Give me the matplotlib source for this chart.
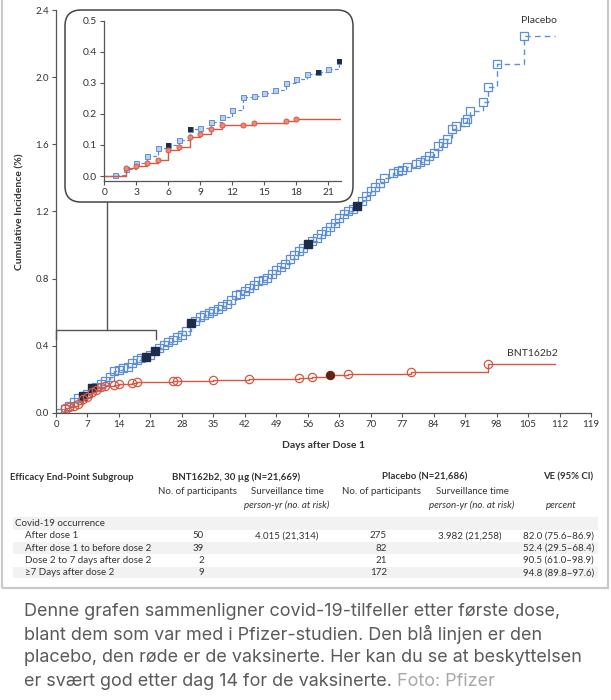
import matplotlib.pyplot as plt
from matplotlib.patches import FancyBboxPatch, Rectangle

plt.rcParams['font.family'] = ['Lato', 'DejaVu Sans']

W, H = 611, 700

# cumulative incidence (%)
placebo_days = [1, 2, 3, 4, 5, 6, 7, 8, 9, 10, 11, 12, 13, 14, 15, 16, 17, 18, 19, 20,
                21, 22, 23, 24, 25, 26, 27, 28, 29, 30, 31, 32, 33, 34, 35, 36, 37, 38, 39, 40,
                41, 42, 43, 44, 45, 46, 47, 48, 49, 50, 51, 52, 53, 54, 55, 56, 57, 58, 59, 60,
                61, 62, 63, 64, 65, 66, 67, 68, 69, 70, 71, 72, 73, 75, 76, 77, 78, 80, 81, 82,
                83, 84, 85, 86, 87, 88, 89, 91, 91.4, 92, 95, 96, 98, 104]
placebo_cum = [0.002, 0.023, 0.041, 0.063, 0.090, 0.100, 0.116, 0.150, 0.153, 0.175,
               0.191, 0.212, 0.253, 0.258, 0.267, 0.276, 0.300, 0.313, 0.328, 0.334,
               0.344, 0.370, 0.385, 0.405, 0.420, 0.437, 0.452, 0.465, 0.490, 0.534,
               0.548, 0.570, 0.585, 0.598, 0.605, 0.618, 0.635, 0.650, 0.675, 0.700,
               0.710, 0.725, 0.745, 0.765, 0.785, 0.795, 0.805, 0.830, 0.850, 0.870,
               0.890, 0.920, 0.940, 0.965, 0.985, 1.004, 1.025, 1.045, 1.065, 1.085,
               1.105, 1.130, 1.160, 1.185, 1.200, 1.215, 1.234, 1.265, 1.295, 1.320,
               1.345, 1.370, 1.397, 1.430, 1.440, 1.450, 1.466, 1.480, 1.496, 1.506,
               1.530, 1.550, 1.590, 1.605, 1.630, 1.690, 1.710, 1.734, 1.750, 1.800,
               1.850, 1.940, 2.077, 2.244]
placebo_dark = [6, 8, 20, 22, 30, 56, 67]

bnt_days = [2, 3, 4, 5, 6, 7, 8, 9, 10, 11, 13, 14, 17, 18, 26, 27, 35, 43, 54, 57, 61, 65, 79, 96]
bnt_cum = [0.027, 0.033, 0.043, 0.053, 0.084, 0.095, 0.125, 0.135, 0.152, 0.163,
           0.164, 0.170, 0.176, 0.183, 0.188, 0.192, 0.196, 0.200, 0.207, 0.215,
           0.224, 0.233, 0.242, 0.292]
bnt_dark = [61]
end_day = 111

x_ticks = list(range(0, 120, 7))
y_ticks = [0.0, 0.4, 0.8, 1.2, 1.6, 2.0, 2.4]
inset_x_ticks = list(range(0, 22, 3))
inset_y_ticks = [0.0, 0.1, 0.2, 0.3, 0.4, 0.5]

table_header = ["Efficacy End-Point Subgroup", "BNT162b2, 30 µg (N=21,669)",
                "Placebo (N=21,686)", "VE (95% CI)"]
row_labels = ["After dose 1", "After dose 1 to before dose 2",
              "Dose 2 to 7 days after dose 2", "≥7 Days after dose 2"]
bnt_n = ["50", "39", "2", "9"]
bnt_time = ["4.015 (21,314)", "", "", ""]
placebo_n = ["275", "82", "21", "172"]
placebo_time = ["3.982 (21,258)", "", "", ""]
ve = ["82.0 (75.6–86.9)", "52.4 (29.5–68.4)", "90.5 (61.0–98.9)", "94.8 (89.8–97.6)"]

caption = ["Denne grafen sammenligner covid-19-tilfeller etter første dose,",
           "blant dem som var med i Pfizer-studien. Den blå linjen er den",
           "placebo, den røde er de vaksinerte. Her kan du se at beskyttelsen",
           "er svært god etter dag 14 for de vaksinerte."]
credit = "Foto: Pfizer"

BLUE = '#5e8fd6'
RED = '#d9573f'
NAVY = '#1f2c48'
DARKRED = '#5e2418'
AX = '#555555'
TXT = '#333333'


def fx(px):
    return px / W


def fy(py):
    return 1 - py / H


def style_axes(a, fs):
    for s in ['top', 'right']:
        a.spines[s].set_visible(False)
    for s in ['left', 'bottom']:
        a.spines[s].set_color(AX)
        a.spines[s].set_linewidth(0.9)
    a.tick_params(direction='out', length=3, width=0.8, color=AX,
                  labelsize=fs, labelcolor=TXT, pad=2)


def step_xy(days, cum):
    return [0] + list(days) + [end_day], [0] + list(cum) + [cum[-1]]


fig = plt.figure(figsize=(W / 100, H / 100), dpi=100)

# ---- main chart ----
ax = fig.add_axes([fx(56), fy(413), fx(591) - fx(56), (413 - 10) / H])
ax.set_facecolor('none')
style_axes(ax, 7)

px_, py_ = step_xy(placebo_days, placebo_cum)
ax.step(px_, py_, where='post', color=BLUE, lw=1.0, ls=(0, (4, 3)))
ax.plot(placebo_days, placebo_cum, 's', mfc='none', mec=BLUE, ms=6.3, mew=0.9)
dk = [placebo_cum[placebo_days.index(d)] for d in placebo_dark]
ax.plot(placebo_dark, dk, 's', mfc=NAVY, mec=NAVY, ms=5.8, mew=0.9)

bx_, by_ = step_xy(bnt_days, bnt_cum)
ax.step(bx_, by_, where='post', color=RED, lw=1.0)
ax.plot(bnt_days, bnt_cum, 'o', mfc='none', mec=RED, ms=6, mew=0.9)
dk = [bnt_cum[bnt_days.index(d)] for d in bnt_dark]
ax.plot(bnt_dark, dk, 'o', mfc=DARKRED, mec=DARKRED, ms=5.5, mew=0.9)

ax.set_xlim(0, 119)
ax.set_ylim(0, 2.4)
ax.set_xticks(x_ticks)
ax.set_yticks(y_ticks)
ax.set_yticklabels([f"{v:.1f}" for v in y_ticks])
ax.set_xlabel("Days after Dose 1", fontsize=7.5, fontweight='bold', color=TXT, labelpad=9)
ax.set_ylabel("Cumulative Incidence (%)", fontsize=7.5, fontweight='bold', color=TXT, labelpad=8)

ax.text(107.5, 2.31, "Placebo", fontsize=7.5, color=TXT, ha='center', va='bottom')
ax.text(106, 0.33, "BNT162b2", fontsize=7.5, color=TXT, ha='center', va='bottom')

# bracket marking the zoomed range and connector to the inset box
ax.plot([0, 0, 22.3, 22.3], [0.44, 0.494, 0.494, 0.44], color=AX, lw=1.0, clip_on=False)
ax.plot([11.3, 11.3], [0.494, 1.256], color=AX, lw=1.0, clip_on=False)

# ---- inset ----
box = FancyBboxPatch((0.65, 4.98), 2.88, 1.92, boxstyle="round,pad=0,rounding_size=0.16",
                     transform=fig.dpi_scale_trans, fc='white', ec='#444444', lw=1.1, zorder=0.5)
fig.patches.append(box)

axin = fig.add_axes([fx(104.3), fy(181), (341 - 104.3) / W, (181 - 20.7) / H])
axin.set_zorder(2)
axin.set_facecolor('none')
style_axes(axin, 7.4)
axin.step(px_, py_, where='post', color=BLUE, lw=0.9, ls=(0, (3, 2)))
axin.plot(placebo_days, placebo_cum, 's', mfc='#bcd0ee', mec=BLUE, ms=3.6, mew=0.7)
dk = [placebo_cum[placebo_days.index(d)] for d in placebo_dark]
axin.plot(placebo_dark, dk, 's', mfc=NAVY, mec=NAVY, ms=3.4, mew=0.7)
axin.step(bx_, by_, where='post', color=RED, lw=1.0)
axin.plot(bnt_days, bnt_cum, 'o', mfc='#ec8b73', mec=RED, ms=3.6, mew=0.7)
axin.set_xlim(0, 22.2)
axin.set_ylim(-0.016, 0.5)
axin.set_xticks(inset_x_ticks)
axin.set_yticks(inset_y_ticks)
axin.set_yticklabels([f"{v:.1f}" for v in inset_y_ticks])

# ---- table ----
frame = Rectangle((fx(2), fy(588)), fx(608) - fx(2), 588 / H + 0.01, transform=fig.transFigure,
                  fc='none', ec='#c9c9c9', lw=1.6, zorder=0.4)
fig.patches.append(frame)
for top, bot in [(517, 530), (542, 554), (567, 578)]:
    fig.patches.append(Rectangle((fx(13), fy(bot)), fx(598) - fx(13), (bot - top) / H,
                                 transform=fig.transFigure, fc='#f2f2f2', ec='none', zorder=0.3))

TFS = 7
HFS = 6.9
fig.text(fx(10), fy(477), table_header[0], fontsize=HFS, fontweight='bold', color=TXT, va='center')
fig.text(fx(236), fy(477), table_header[1], fontsize=HFS, fontweight='bold', color=TXT,
         va='center', ha='center')
fig.text(fx(425), fy(477), table_header[2], fontsize=HFS, fontweight='bold', color=TXT,
         va='center', ha='center')
fig.text(fx(568), fy(477), table_header[3], fontsize=HFS, fontweight='bold', color=TXT,
         va='center', ha='center')
for cx in [198, 382]:
    fig.text(fx(cx), fy(491), "No. of participants", fontsize=TFS, color=TXT, ha='center', va='center')
for cx in [287, 472]:
    fig.text(fx(cx), fy(491), "Surveillance time", fontsize=TFS, color=TXT, ha='center', va='center')
    fig.text(fx(cx), fy(505), "person-yr (no. at risk)", fontsize=TFS, color=TXT, style='italic',
             ha='center', va='center')
fig.text(fx(561), fy(505), "percent", fontsize=TFS, color=TXT, style='italic', ha='center', va='center')
fig.text(fx(15), fy(523), "Covid-19 occurrence", fontsize=TFS, color=TXT, va='center')
for i, lab in enumerate(row_labels):
    y = fy(536 + i * 12.2)
    fig.text(fx(25), y, lab, fontsize=TFS, color=TXT, va='center')
    fig.text(fx(204), y, bnt_n[i], fontsize=TFS, color=TXT, va='center', ha='right')
    fig.text(fx(287), y, bnt_time[i], fontsize=TFS, color=TXT, va='center', ha='center')
    fig.text(fx(387), y, placebo_n[i], fontsize=TFS, color=TXT, va='center', ha='right')
    fig.text(fx(470), y, placebo_time[i], fontsize=TFS, color=TXT, va='center', ha='center')
    fig.text(fx(594), y, ve[i], fontsize=TFS, color=TXT, va='center', ha='right')

# ---- caption ----
CFS = 12.95
last = None
for i, line in enumerate(caption):
    last = fig.text(fx(24), fy(611 + i * 23.4), line, fontsize=CFS, color='#5a5a5a',
                    family=['Inter', 'DejaVu Sans'], va='center')
ax.annotate(credit, xy=(1, 0), xycoords=last, xytext=(4, 0), textcoords='offset points',
            fontsize=CFS, color='#a8a8a8', family=['Inter', 'DejaVu Sans'],
            ha='left', va='bottom', annotation_clip=False)

fig.savefig("out.png", dpi=100)
